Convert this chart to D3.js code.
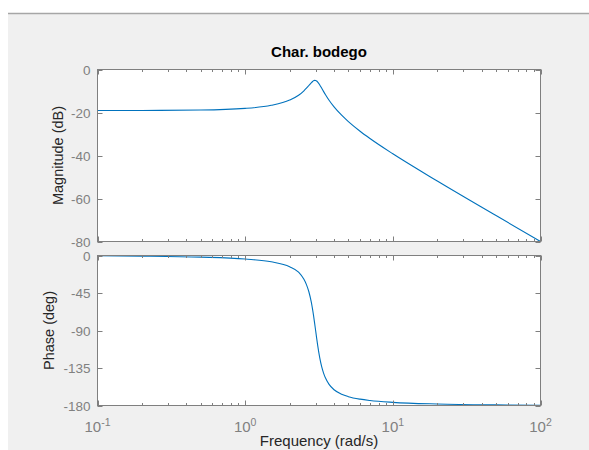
<!DOCTYPE html>
<html>
<head>
<meta charset="utf-8">
<script src="https://cdn.jsdelivr.net/npm/d3@7"></script>
<style>
  html, body { margin: 0; padding: 0; background: #ffffff; }
  svg { display: block; }
  text { font-family: "Liberation Sans", Arial, Helvetica, sans-serif; }
</style>
</head>
<body>
<script>
// ---- Data (frequency in rad/s) ----
const freq = [0.1, 0.2, 0.5, 1, 1.5, 2, 2.3, 2.5, 2.6, 2.7, 2.8, 2.85, 2.9, 2.95, 3, 3.05, 3.1, 3.2, 3.3, 3.4, 3.5, 3.7, 4, 4.5, 5, 6, 7, 10, 20, 50, 100];
const magnitudeDb = [-19.08, -19.05, -18.85, -18.09, -16.66, -14.22, -12.0, -9.92, -8.72, -7.44, -6.20, -5.68, -5.28, -5.08, -5.11, -5.37, -5.83, -7.18, -8.75, -10.30, -11.75, -14.30, -17.38, -21.27, -24.23, -28.70, -32.09, -39.20, -51.85, -67.93, -79.99];
const phaseDeg = [-0.38, -0.77, -1.96, -4.29, -7.59, -13.5, -20.0, -28.6, -34.9, -43.5, -55.4, -62.9, -71.3, -80.5, -90.0, -99.4, -108.2, -122.9, -133.7, -141.4, -147.1, -154.7, -161.1, -166.5, -169.4, -172.4, -174.0, -176.2, -178.2, -179.3, -179.66];

const xTicks = [0.1, 1, 10, 100];
const xTickExp = ["-1", "0", "1", "2"];
const magTicks = [0, -20, -40, -60, -80];
const phaseTicks = [0, -45, -90, -135, -180];

const titleText = "Char. bodego";
const magLabel = "Magnitude (dB)";
const phaseLabel = "Phase (deg)";
const xLabel = "Frequency  (rad/s)";

// ---- Layout ----
const W = 589, H = 450;
const left = 97.5, right = 540.5;
const magTop = 69.5, magBottom = 241.5;
const phTop = 255.5, phBottom = 405.5;
const lineColor = "#0072bd";
const axisColor = "#7f7f7f";
const tickLabelColor = "#808080";
const labelColor = "#262626";

const svg = d3.select("body").append("svg").attr("width", W).attr("height", H);

// figure background
svg.append("rect").attr("x", 0).attr("y", 0).attr("width", W).attr("height", H).attr("fill", "#ffffff");
svg.append("rect").attr("x", 8).attr("y", 14).attr("width", W - 8).attr("height", H - 14).attr("fill", "#f0f0f0");
svg.append("line").attr("x1", 8).attr("x2", W).attr("y1", 13.5).attr("y2", 13.5)
  .attr("stroke", "#a6a6a6").attr("stroke-width", 1.5);

const x = d3.scaleLog().domain([0.1, 100]).range([left, right]);
const yMag = d3.scaleLinear().domain([-80, 0]).range([magBottom, magTop]);
const yPh = d3.scaleLinear().domain([-180, 0]).range([phBottom, phTop]);

// minor tick positions
const minor = [];
[0.1, 1, 10].forEach(d => { for (let k = 2; k <= 9; k++) minor.push(d * k); });

function panel(yScale, yTicks, top, bottom, values, label, labelX) {
  const g = svg.append("g");
  g.append("rect").attr("x", left).attr("y", top).attr("width", right - left).attr("height", bottom - top)
    .attr("fill", "#ffffff");

  const id = "clip" + Math.round(top);
  svg.append("clipPath").attr("id", id).append("rect")
    .attr("x", left).attr("y", top - 1).attr("width", right - left).attr("height", bottom - top + 2);

  const line = d3.line().x((d, i) => x(freq[i])).y(d => yScale(d)).curve(d3.curveMonotoneX);
  g.append("path").datum(values).attr("d", line).attr("fill", "none")
    .attr("stroke", lineColor).attr("stroke-width", 1.1).attr("clip-path", `url(#${id})`);

  const tk = g.append("g").attr("stroke", axisColor).attr("stroke-width", 1);
  xTicks.forEach(t => {
    const px = Math.round(x(t)) + 0.5;
    tk.append("line").attr("x1", px).attr("x2", px).attr("y1", bottom).attr("y2", bottom - 5);
    tk.append("line").attr("x1", px).attr("x2", px).attr("y1", top).attr("y2", top + 5);
  });
  minor.forEach(t => {
    const px = Math.round(x(t)) + 0.5;
    tk.append("line").attr("x1", px).attr("x2", px).attr("y1", bottom).attr("y2", bottom - 2.5);
    tk.append("line").attr("x1", px).attr("x2", px).attr("y1", top).attr("y2", top + 2.5);
  });
  yTicks.forEach(t => {
    const py = Math.round(yScale(t)) + 0.5;
    tk.append("line").attr("x1", left).attr("x2", left + 5).attr("y1", py).attr("y2", py);
    tk.append("line").attr("x1", right).attr("x2", right - 5).attr("y1", py).attr("y2", py);
    g.append("text").attr("x", left - 7).attr("y", py).attr("dy", "0.35em")
      .attr("text-anchor", "end").attr("font-size", 13.5).attr("fill", tickLabelColor).text(t);
  });

  g.append("rect").attr("x", left).attr("y", top).attr("width", right - left).attr("height", bottom - top)
    .attr("fill", "none").attr("stroke", axisColor).attr("stroke-width", 1);

  g.append("text").attr("transform", `translate(${labelX},${(top + bottom) / 2}) rotate(-90)`)
    .attr("text-anchor", "middle").attr("dy", "0.35em").attr("font-size", 14.5)
    .attr("fill", labelColor).text(label);
}

panel(yMag, magTicks, magTop, magBottom, magnitudeDb, magLabel, 58);
panel(yPh, phaseTicks, phTop, phBottom, phaseDeg, phaseLabel, 49);

// x tick labels
xTicks.forEach((t, i) => {
  const tx = svg.append("text").attr("x", x(t)).attr("y", 432).attr("text-anchor", "middle")
    .attr("font-size", 15).attr("fill", tickLabelColor);
  tx.append("tspan").text("10");
  tx.append("tspan").attr("font-size", 10.5).attr("dy", -6).text(xTickExp[i]);
});

// x label
svg.append("text").attr("x", (left + right) / 2).attr("y", 446).attr("text-anchor", "middle")
  .attr("font-size", 15).attr("fill", labelColor).text(xLabel);

// title
svg.append("text").attr("x", (left + right) / 2).attr("y", 57).attr("text-anchor", "middle")
  .attr("font-size", 15).attr("font-weight", "bold").attr("fill", "#000000").text(titleText);
</script>
</body>
</html>
